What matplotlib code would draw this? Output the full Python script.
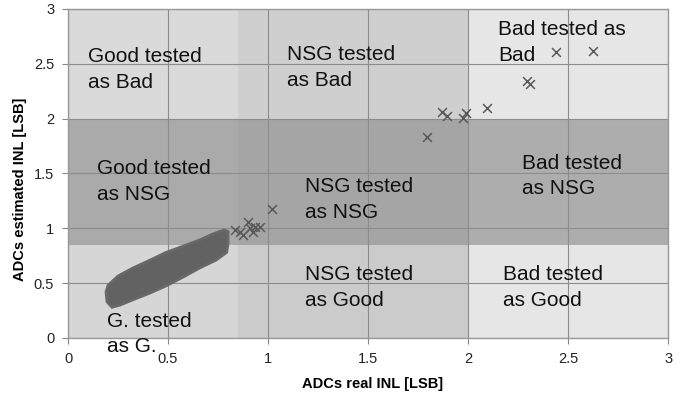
# -*- coding: utf-8 -*-

import matplotlib
matplotlib.use("Agg")
import matplotlib.pyplot as plt
from matplotlib.patches import Rectangle

## Region limits (real / estimated INL thresholds)
x_edges = [0.0, 0.85, 2.0, 3.0]
y_edges = [0.0, 0.85, 2.0, 3.0]

## Shade of every region, rows from bottom to top, columns left to right
region_colors = [
    ['#d6d6d6', '#cbcbcb', '#e6e6e6'],
    ['#aaaaaa', '#a5a5a5', '#adadad'],
    ['#dadada', '#cfcfcf', '#e6e6e6'],
]

## Region labels: text, x, y (top of text)
label_text = ['Good tested\nas Bad', 'NSG tested\nas Bad', 'Bad tested as\nBad',
              'Good tested\nas NSG', 'NSG tested\nas NSG', 'Bad tested\nas NSG',
              'G. tested\nas G.', 'NSG tested\nas Good', 'Bad tested\nas Good']
label_x = [0.10, 1.095, 2.152, 0.147, 1.185, 2.268, 0.193, 1.185, 2.177]
label_y = [2.65, 2.67, 2.90, 1.63, 1.47, 1.68, 0.24, 0.665, 0.665]

## Outline of the dense cloud of ADCs (real INL, estimated INL)
cloud_x = [0.19, 0.20, 0.25, 0.327, 0.41, 0.49, 0.58, 0.66, 0.72, 0.78,
           0.80, 0.80, 0.793, 0.74, 0.66, 0.58, 0.49, 0.41, 0.327, 0.26,
           0.22, 0.195]
cloud_y = [0.42, 0.48, 0.565, 0.64, 0.71, 0.78, 0.84, 0.895, 0.945, 0.985,
           0.97, 0.86, 0.78, 0.71, 0.64, 0.56, 0.475, 0.41, 0.35, 0.30,
           0.28, 0.33]

## Single ADCs outside the cloud
out_x = [0.835, 0.86, 0.877, 0.90, 0.91, 0.927, 0.935, 0.96, 1.018,
         1.793, 1.868, 1.893, 1.977, 1.99, 2.093, 2.293, 2.31, 2.44, 2.623]
out_y = [0.985, 0.97, 0.94, 1.06, 1.0, 0.97, 1.015, 1.015, 1.18,
         1.83, 2.063, 2.02, 2.01, 2.05, 2.10, 2.343, 2.32, 2.61, 2.62]

ticks = [0, 0.5, 1, 1.5, 2, 2.5, 3]
tick_labels = ['0', '0.5', '1', '1.5', '2', '2.5', '3']

plt.rcParams['font.family'] = ['Liberation Sans', 'DejaVu Sans']

fig = plt.figure(figsize=(6.83, 3.98), dpi=100)
ax = fig.add_axes([0.0996, 0.1508, 0.8785, 0.8266])

## Background regions
for i in range(3):
    for j in range(3):
        ax.add_patch(Rectangle((x_edges[j], y_edges[i]),
                               x_edges[j + 1] - x_edges[j],
                               y_edges[i + 1] - y_edges[i],
                               facecolor=region_colors[i][j],
                               edgecolor='none', zorder=0))

ax.grid(True, color='#8c8c8c', linewidth=0.8, zorder=1)
ax.set_axisbelow(True)

## Data
ax.fill(cloud_x, cloud_y, facecolor='#626262', edgecolor='#686868',
        linewidth=2.0, zorder=3)
ax.scatter(out_x, out_y, marker='x', s=40, color='#5a5a5a',
           linewidths=1.1, zorder=4)

for t, x, y in zip(label_text, label_x, label_y):
    ax.text(x, y, t, fontsize=15, color='#111111', ha='left', va='top',
            linespacing=1.45, zorder=5, clip_on=False)

ax.set_xlim(0, 3)
ax.set_ylim(0, 3)
ax.set_xticks(ticks)
ax.set_xticklabels(tick_labels)
ax.set_yticks(ticks)
ax.set_yticklabels(tick_labels)
ax.tick_params(axis='both', labelsize=10.5, colors='#222222',
               length=4, color='#888888', pad=6)
for s in ax.spines.values():
    s.set_color('#999999')
    s.set_linewidth(1.0)

ax.set_xlabel('ADCs real INL [LSB]', fontsize=10.5, fontweight='bold')
ax.xaxis.set_label_coords(0.508, -0.119)
ax.set_ylabel('ADCs estimated INL [LSB]', fontsize=10.5, fontweight='bold')
ax.yaxis.set_label_coords(-0.068, 0.453)

fig.savefig('out.png', dpi=100)
